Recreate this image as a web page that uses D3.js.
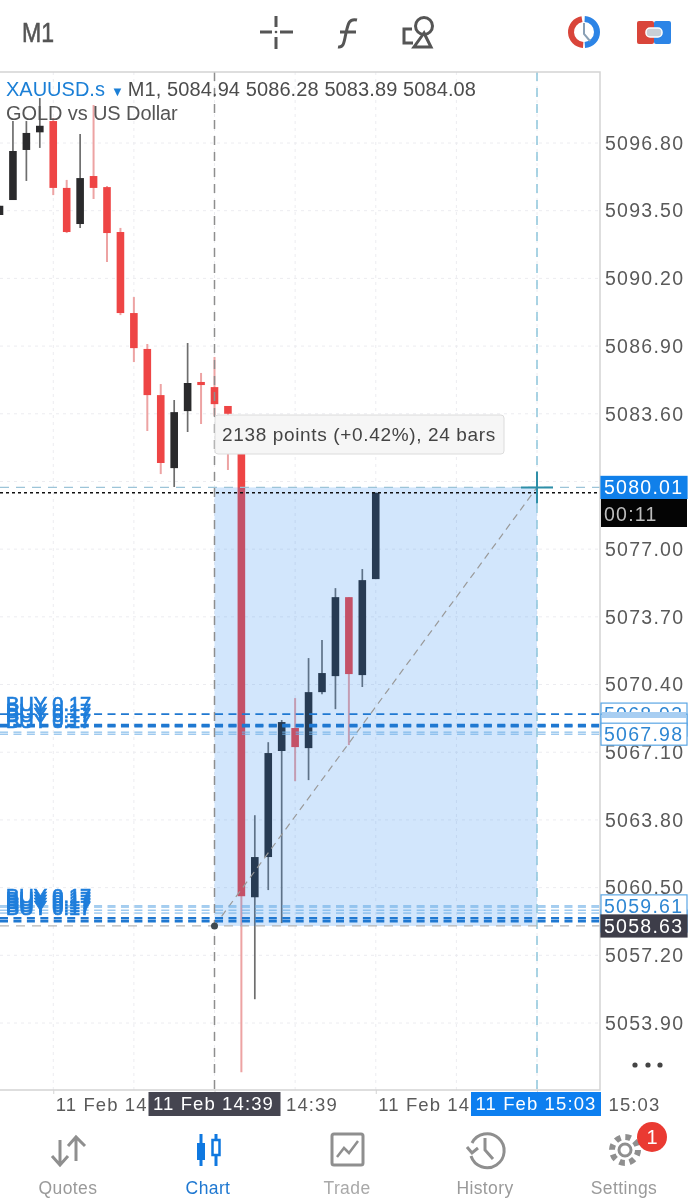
<!DOCTYPE html>
<html>
<head>
<meta charset="utf-8">
<title>XAUUSD.s M1</title>
<script src="https://cdn.jsdelivr.net/npm/d3@7"></script>
<style>
	html, body { margin: 0; padding: 0; background: #fff; }
	svg { display: block; font-family: "Liberation Sans", Arial, sans-serif; filter: blur(0.35px); }
</style>
</head>
<body>
<svg id="chart" width="695" height="1200"></svg>
<script>
/* candles, one per minute from 14:23 */
const firstMinute = 23; // 14:23
const opens = [5093.29, 5094.02, 5096.46, 5097.32, 5097.87, 5094.61, 5092.85, 5095.19, 5094.65, 5092.46, 5088.51, 5086.76, 5084.51, 5080.95, 5083.73,
	5085.15, 5084.90, 5083.98, 5083.30, 5060.03, 5061.99, 5067.16, 5068.28, 5067.30, 5070.03, 5070.81, 5074.66, 5070.86, 5075.54];
const highs = [5093.74, 5097.87, 5097.87, 5098.99, 5098.02, 5095.00, 5097.24, 5098.65, 5094.70, 5092.66, 5089.29, 5087.00, 5085.05, 5084.27, 5087.05,
	5085.59, 5086.37, 5083.98, 5083.40, 5064.03, 5067.59, 5068.67, 5069.74, 5071.69, 5072.57, 5075.10, 5074.66, 5076.03, 5079.75];
const lows = [5093.29, 5094.02, 5094.95, 5096.56, 5094.26, 5092.41, 5092.66, 5094.07, 5091.00, 5088.41, 5086.12, 5082.76, 5080.66, 5080.03, 5082.71,
	5083.10, 5083.50, 5080.86, 5051.50, 5055.06, 5060.38, 5058.77, 5065.69, 5065.74, 5069.93, 5069.20, 5067.45, 5070.28, 5075.54];
const closes = [5093.74, 5096.41, 5097.29, 5097.64, 5094.61, 5092.46, 5095.09, 5094.61, 5092.41, 5088.51, 5086.80, 5084.51, 5081.20, 5083.68, 5085.10,
	5085.00, 5084.07, 5083.60, 5060.08, 5061.99, 5067.06, 5068.57, 5067.35, 5070.03, 5070.96, 5074.66, 5070.91, 5075.49, 5079.75];

const priceTicks = [5096.80, 5093.50, 5090.20, 5086.90, 5083.60, 5080.30, 5077.00, 5073.70, 5070.40, 5067.10, 5063.80, 5060.50, 5057.20, 5053.90];
const timeTicks = [27, 39, 51, 63]; // minutes after 14:00
const gridMinutes = [27, 33, 39, 45, 51, 57, 63];

const orderLines = [5068.96, 5068.42, 5068.38, 5068.08, 5067.98, 5059.61, 5059.55, 5059.40, 5059.26, 5059.02, 5058.87];
const orderWeights = [1.6, 3, 3, 1, 1, 1, 1, 1, 1, 2, 3];
const orderLabelPrices = [5069.13, 5068.79, 5068.55, 5068.30, 5059.75, 5059.60, 5059.46, 5059.31, 5059.17];
const orderBoxes = [["5068.93", 5068.96], ["", 5068.42], ["5067.98", 5067.98], ["", 5058.87], ["5059.61", 5059.61]];

const measureStart = 5058.63, measureEnd = 5080.01, bidPrice = 5079.75;
const startMinute = 39, endMinute = 63;
const navLabels = ["Quotes", "Chart", "Trade", "History", "Settings"];
const navColors = ["#9a9a9a", "#1f78d1", "#a9a9a9", "#9a9a9a", "#9a9a9a"];
const navX = [68, 208, 347, 485, 624];

const svg = d3.select("#chart");
const minuteDate = m => new Date(2026, 1, 11, 14, m);

const x = d3.scaleTime().domain([minuteDate(39), minuteDate(63)]).range([214.5, 537]);
const y = d3.scaleLinear().domain([5096.8, 5053.9]).range([143, 1023]);

const candles = opens.map((o, i) => ({ time: minuteDate(firstMinute + i), o: o, h: highs[i], l: lows[i], c: closes[i] }));

svg.append("clipPath").attr("id", "plotClip").append("rect")
	.attr("x", 0).attr("y", 72).attr("width", 600).attr("height", 1018);
const plot = svg.append("g").attr("clip-path", "url(#plotClip)");

// faint grid
plot.selectAll(".gridV").data(gridMinutes).enter().append("line")
	.attr("x1", d => x(minuteDate(d))).attr("x2", d => x(minuteDate(d)))
	.attr("y1", 72).attr("y2", 1090)
	.attr("stroke", "#ececf0").attr("stroke-dasharray", "3,4");
plot.selectAll(".gridH").data(priceTicks).enter().append("line")
	.attr("x1", 0).attr("x2", 600)
	.attr("y1", d => y(d)).attr("y2", d => y(d))
	.attr("stroke", "#ececf0").attr("stroke-dasharray", "3,4");

// candles
const isUp = d => d.c >= d.o;
const candle = plot.selectAll(".candle").data(candles).enter().append("g");
candle.append("line")
	.attr("x1", d => x(d.time)).attr("x2", d => x(d.time))
	.attr("y1", d => y(d.h)).attr("y2", d => y(d.l))
	.attr("stroke", d => isUp(d) ? "#6e6e6e" : "#eda3a3").attr("stroke-width", d => isUp(d) ? 1.7 : 2);
candle.append("rect")
	.attr("x", d => x(d.time) - 3.8).attr("width", 7.6)
	.attr("y", d => y(Math.max(d.o, d.c)))
	.attr("height", d => Math.max(2, Math.abs(y(d.o) - y(d.c))))
	.attr("fill", d => isUp(d) ? "#2a2a2c" : "#ee4545");

// measuring box, drawn over the candles so they get tinted
plot.append("rect")
	.attr("x", x(minuteDate(startMinute))).attr("width", x(minuteDate(endMinute)) - x(minuteDate(startMinute)))
	.attr("y", y(measureEnd)).attr("height", y(measureStart) - y(measureEnd))
	.attr("fill", "rgba(30,130,240,0.2)");

// selection crosshair lines
plot.append("line")
	.attr("x1", x(minuteDate(startMinute))).attr("x2", x(minuteDate(startMinute))).attr("y1", 72).attr("y2", 1090)
	.attr("stroke", "#8e8e8e").attr("stroke-width", 1.5).attr("stroke-dasharray", "9,7");
plot.append("line")
	.attr("x1", x(minuteDate(endMinute))).attr("x2", x(minuteDate(endMinute))).attr("y1", 72).attr("y2", 1090)
	.attr("stroke", "#8fc6dc").attr("stroke-width", 1.5).attr("stroke-dasharray", "9,7");
plot.append("line")
	.attr("x1", 0).attr("x2", 600).attr("y1", y(measureStart)).attr("y2", y(measureStart))
	.attr("stroke", "#b5b5b5").attr("stroke-width", 1.2).attr("stroke-dasharray", "9,7");
plot.append("line")
	.attr("x1", 0).attr("x2", 600).attr("y1", y(measureEnd)).attr("y2", y(measureEnd))
	.attr("stroke", "#9cc4d8").attr("stroke-width", 1.2).attr("stroke-dasharray", "9,7");
plot.append("line")
	.attr("x1", x(minuteDate(startMinute))).attr("x2", x(minuteDate(endMinute)))
	.attr("y1", y(measureStart)).attr("y2", y(measureEnd))
	.attr("stroke", "#9a9a9a").attr("stroke-width", 1.2).attr("stroke-dasharray", "7,5");

// open orders
plot.selectAll(".order").data(orderLines).enter().append("line")
	.attr("x1", 0).attr("x2", 600)
	.attr("y1", d => y(d)).attr("y2", d => y(d))
	.attr("stroke", (d, i) => orderWeights[i] > 1 ? "#1f78d1" : "#6fb0e6")
	.attr("stroke-width", (d, i) => orderWeights[i])
	.attr("stroke-dasharray", "8,5.44");
plot.selectAll(".orderLabel").data(orderLabelPrices).enter().append("text")
	.attr("x", 6).attr("y", d => y(d))
	.attr("font-size", 20).attr("fill", "#1f7edb").attr("stroke", "#1f7edb").attr("stroke-width", 0.7)
	.text("BUY 0.17");

// current bid
plot.append("line")
	.attr("x1", 0).attr("x2", 600).attr("y1", y(bidPrice)).attr("y2", y(bidPrice))
	.attr("stroke", "#111").attr("stroke-width", 1.4).attr("stroke-dasharray", "3,3");

// start dot and end cross
svg.append("circle").attr("cx", x(minuteDate(startMinute))).attr("cy", y(measureStart)).attr("r", 3.5).attr("fill", "#3f4a50");
const crossX = x(minuteDate(endMinute)), crossY = y(measureEnd);
svg.append("path").attr("d", `M${crossX - 16},${crossY}H${crossX + 16}M${crossX},${crossY - 16}V${crossY + 16}`)
	.attr("stroke", "#2e8fa8").attr("stroke-width", 2).attr("fill", "none");

// frame
svg.append("path").attr("d", "M0,72H600V1090H0").attr("fill", "none").attr("stroke", "#d4d4d4").attr("stroke-width", 1.5);

// price axis
const yAxis = d3.axisRight(y).tickValues(priceTicks).tickFormat(d3.format(".2f")).tickSize(0).tickPadding(5);
const yAxisG = svg.append("g").attr("transform", "translate(600,0)").call(yAxis);
yAxisG.select(".domain").remove();
yAxisG.selectAll("text").attr("font-size", 19.5).attr("letter-spacing", 1.25).attr("fill", "#5a5a5a")
	.attr("font-family", "Liberation Sans");
yAxisG.selectAll(".tick").filter(d => d === 5080.30).remove(); // covered by the price label

// time axis, tick text starts right of the tick
const xAxis = d3.axisBottom(x).tickValues(timeTicks.map(minuteDate)).tickFormat(d3.timeFormat("%d %b %H:%M")).tickSize(4).tickPadding(4);
const xAxisG = svg.append("g").attr("transform", "translate(0,1090)").call(xAxis);
xAxisG.select(".domain").remove();
xAxisG.selectAll("line").attr("stroke", "#d4d4d4");
xAxisG.selectAll("text").attr("text-anchor", "start").attr("dx", 2).attr("y", 8)
	.attr("font-size", 18.5).attr("letter-spacing", 1.1).attr("fill", "#5a5a5a").attr("font-family", "Liberation Sans");

// price labels on the right
function priceBox(price, txt, fill, stroke, color) {
	const c = y(price);
	svg.append("rect").attr("x", 601).attr("y", c - 11).attr("width", 86).attr("height", 22)
		.attr("fill", fill).attr("stroke", stroke).attr("stroke-width", 1.2);
	if (txt) svg.append("text").attr("x", 604).attr("y", c + 7).attr("font-size", 19.5).attr("letter-spacing", 1.25)
		.attr("fill", color).text(txt);
}
orderBoxes.forEach(b => priceBox(b[1], b[0], "#fff", "#5aa6e4", "#2f87d3"));
svg.append("rect").attr("x", 602).attr("y", 712).attr("width", 84).attr("height", 6).attr("fill", "#a8cef2");

svg.append("rect").attr("x", 601).attr("y", 480).attr("width", 86).attr("height", 47).attr("fill", "#040404");
priceBox(measureEnd, "5080.01", "#1080ea", "#1080ea", "#fff");
svg.append("text").attr("x", 604).attr("y", 521).attr("font-size", 19.5).attr("letter-spacing", 1.25).attr("fill", "#bdbdbd").text("00:11");
priceBox(measureStart, "5058.63", "#3d3d49", "#3d3d49", "#fff");

// date labels on the time axis
function dateBox(minute, fill) {
	const c = x(minuteDate(minute));
	const w = minute === endMinute ? 130 : 132;
	svg.append("rect").attr("x", c - (minute === endMinute ? 66 : 66)).attr("y", 1092).attr("width", w).attr("height", 24).attr("fill", fill);
	svg.append("text").attr("x", c - 1).attr("y", 1110).attr("text-anchor", "middle")
		.attr("font-size", 18.5).attr("letter-spacing", 1.1).attr("fill", "#fff")
		.text(d3.timeFormat("%d %b %H:%M")(minuteDate(minute)));
}
dateBox(startMinute, "#454550");
dateBox(endMinute, "#0d7ff0");

// measuring tooltip
svg.append("rect").attr("x", 215).attr("y", 415).attr("width", 289).attr("height", 39).attr("rx", 3)
	.attr("fill", "#f6f6f6").attr("stroke", "#dcdcdc");
svg.append("text").attr("x", 222).attr("y", 441).attr("font-size", 19).attr("letter-spacing", 0.65).attr("fill", "#444")
	.text("2138 points (+0.42%), 24 bars");

// symbol header
const header = svg.append("text").attr("x", 6).attr("y", 96).attr("font-size", 20);
header.append("tspan").attr("fill", "#1b7fd6").text("XAUUSD.s");
header.append("tspan").attr("fill", "#1b7fd6").attr("dx", 6).attr("font-size", 13).text("▼");
header.append("tspan").attr("fill", "#4c4c4c").attr("dx", 4).attr("letter-spacing", 0.1).text("M1, 5084.94 5086.28 5083.89 5084.08");
svg.append("text").attr("x", 6).attr("y", 120).attr("font-size", 20).attr("letter-spacing", -0.1).attr("fill", "#555").text("GOLD vs US Dollar");

// "more" dots
svg.selectAll(".more").data([635, 648, 660]).enter().append("circle")
	.attr("cx", d => d).attr("cy", 1065).attr("r", 2.6).attr("fill", "#444");

// top bar
svg.append("text").attr("x", 22).attr("y", 42).attr("font-size", 28).attr("textLength", 32).attr("lengthAdjust", "spacingAndGlyphs")
	.attr("fill", "#555").attr("stroke", "#555").attr("stroke-width", 0.6).text("M1");
svg.append("path").attr("d", "M260,32H272M280,32H293M276,16V27M276,37V49")
	.attr("stroke", "#555").attr("stroke-width", 3).attr("fill", "none");
svg.append("circle").attr("cx", 276).attr("cy", 32).attr("r", 1.3).attr("fill", "#555");
svg.append("path").attr("d", "M338,47C344,48 344,42 346,33C348,24 349,18 357,20M340,32H356")
	.attr("stroke", "#555").attr("stroke-width", 3).attr("fill", "none");
svg.append("path").attr("d", "M412,29H404V43H413")
	.attr("stroke", "#555").attr("stroke-width", 3).attr("fill", "none");
svg.append("circle").attr("cx", 424).attr("cy", 26).attr("r", 8.5).attr("stroke", "#555").attr("stroke-width", 3).attr("fill", "none");
svg.append("path").attr("d", "M424,33L414,47H431Z").attr("stroke", "#555").attr("stroke-width", 3).attr("fill", "none");

// clock icon
const clockArc = d3.arc().innerRadius(10).outerRadius(16);
svg.append("path").attr("transform", "translate(584,32)").attr("fill", "#d9453a")
	.attr("d", clockArc({ startAngle: Math.PI * 1.02, endAngle: Math.PI * 1.95 }));
svg.append("path").attr("transform", "translate(584,32)").attr("fill", "#2c84e6")
	.attr("d", clockArc({ startAngle: 0.05, endAngle: Math.PI * 0.98 }));
svg.append("path").attr("d", "M584,23V34L590,41").attr("stroke", "#8aa0b5").attr("stroke-width", 2).attr("fill", "none");

// account icon
svg.append("rect").attr("x", 637).attr("y", 21).attr("width", 17).attr("height", 23).attr("rx", 2).attr("fill", "#d9453a");
svg.append("rect").attr("x", 654).attr("y", 21).attr("width", 17).attr("height", 23).attr("rx", 2).attr("fill", "#2c84e6");
svg.append("rect").attr("x", 646).attr("y", 28).attr("width", 16).attr("height", 9).attr("rx", 4).attr("fill", "#c9cfd6").attr("stroke", "#fff").attr("stroke-width", 1.5);

// bottom navigation
svg.selectAll(".navLabel").data(navLabels).enter().append("text")
	.attr("x", (d, i) => navX[i]).attr("y", 1194).attr("text-anchor", "middle")
	.attr("font-size", 17.5).attr("letter-spacing", 0.4).attr("fill", (d, i) => navColors[i]).text(d => d);

const grey = "#8f8f8f";
svg.append("path").attr("d", "M60,1140V1165M52,1156L60,1165L68,1156M76,1161V1137M68,1146L76,1137L85,1146")
	.attr("stroke", grey).attr("stroke-width", 3).attr("fill", "none");

svg.append("path").attr("d", "M201,1134V1166M216,1134V1166").attr("stroke", "#0f78e0").attr("stroke-width", 3);
svg.append("rect").attr("x", 197).attr("y", 1143).attr("width", 8).attr("height", 17).attr("fill", "#0f78e0");
svg.append("rect").attr("x", 212.5).attr("y", 1140).attr("width", 7).attr("height", 15).attr("fill", "#fff").attr("stroke", "#0f78e0").attr("stroke-width", 2.5);

svg.append("rect").attr("x", 332).attr("y", 1134).attr("width", 31).attr("height", 31).attr("rx", 2)
	.attr("fill", "none").attr("stroke", grey).attr("stroke-width", 3);
svg.append("path").attr("d", "M337,1157L344,1148L349,1153L358,1141").attr("stroke", grey).attr("stroke-width", 2.5).attr("fill", "none");

svg.append("path").attr("d", "M472,1143A17,17,0,1,1,471,1156M467,1147L472,1153L478,1148M485,1138V1150L493,1159")
	.attr("stroke", grey).attr("stroke-width", 3).attr("fill", "none");

svg.append("circle").attr("cx", 625).attr("cy", 1150).attr("r", 6).attr("fill", "none").attr("stroke", grey).attr("stroke-width", 3);
svg.append("circle").attr("cx", 625).attr("cy", 1150).attr("r", 13).attr("fill", "none").attr("stroke", grey).attr("stroke-width", 6).attr("stroke-dasharray", "5.5,4.7");
svg.append("circle").attr("cx", 652).attr("cy", 1137).attr("r", 15).attr("fill", "#ea3a32");
svg.append("text").attr("x", 652).attr("y", 1144).attr("text-anchor", "middle").attr("font-size", 20).attr("fill", "#fff").text("1");
</script>
</body>
</html>
